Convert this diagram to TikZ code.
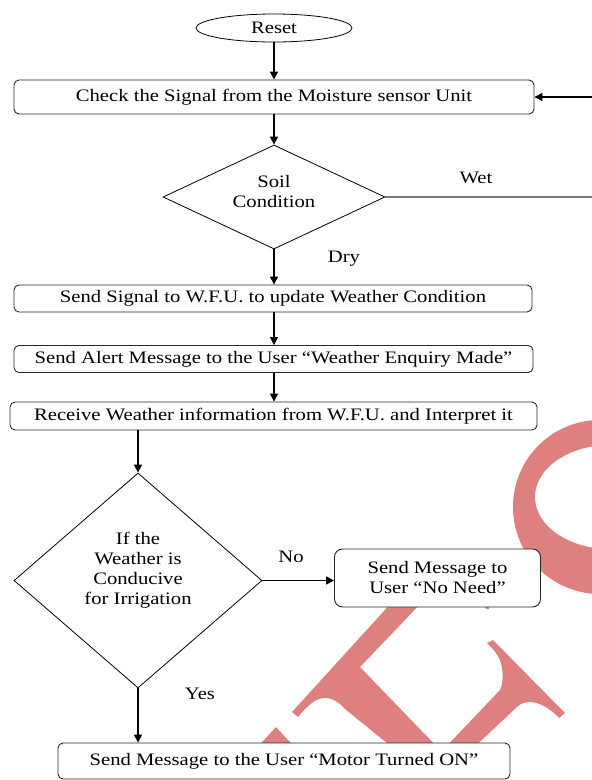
\documentclass[tikz,border=0pt]{standalone}
\usepackage{fontspec}
\setmainfont{Liberation Serif}[FakeStretch=1.18]
\usetikzlibrary{shapes.geometric,arrows.meta}
\definecolor{wmred}{RGB}{222,128,128}
\definecolor{edgegray}{RGB}{40,40,40}
\definecolor{wetgray}{RGB}{120,120,120}
\begin{document}
\begin{tikzpicture}[x=1pt,y=-1pt,
  every node/.style={font=\fontsize{17.5}{20}\selectfont, inner sep=0pt},
  procbox/.style={draw=edgegray, line width=0.9pt, fill=white, rounded corners=5pt, align=center},
  decision/.style={diamond, draw=black, line width=0.8pt, fill=white},
  flow/.style={draw=black, line width=1.4pt, -{Triangle[length=8pt,width=8pt]}},
  tag/.style={anchor=base},
  wmark/.style={fill=wmred}]

\useasboundingbox (0,0) rectangle (592,780);
\fill[white] (0,0) rectangle (592,780);

% background watermark strokes
\fill[wmark, even odd rule] (600,507) circle[radius=87] (610,497) ellipse[x radius=75, y radius=52];
\fill[wmark] (394,600) -- (292,712) -- (298,717)
  .. controls (308,705) and (316,698) .. (325,698)
  .. controls (333,698) and (340,703) .. (345,709)
  -- (398,752) -- (442,752) -- (360,667) -- (424,600) -- cycle;
\fill[wmark] (484,604) -- (490,604) -- (489,609) -- (486,609) -- cycle;
\fill[wmark] (487,643) -- (493,640) -- (565,713) -- (559,718)
  .. controls (552,710) and (540,702) .. (530,702)
  .. controls (524,702) and (520,704) .. (517,707)
  -- (469,752) -- (441,752) -- (500,690)
  .. controls (504,682) and (503,668) .. (500,660)
  .. controls (497,653) and (492,648) .. (487,643) -- cycle;
\fill[wmark] (253,752) -- (276,727) -- (299,752) -- cycle;

% flowchart nodes
\node[ellipse, draw=black, line width=0.8pt, fill=white, minimum width=156pt, minimum height=28pt] (reset) at (274,28) {Reset};
\node[procbox, minimum width=520pt, minimum height=34pt] (check) at (274,97) {Check the Signal from the Moisture sensor Unit};
\node[decision, aspect=2.13, minimum width=222pt, minimum height=104pt] (soil) at (274,197) {};
\node[align=center] (soiltxt) at (274,192) {Soil\\Condition};
\node[procbox, minimum width=518pt, minimum height=27pt] (signal) at (273,298.5) {Send Signal to W.F.U. to update Weather Condition};
\node[procbox, minimum width=519pt, minimum height=27pt] (alert) at (273.5,359) {Send Alert Message to the User “Weather Enquiry Made”};
\node[procbox, minimum width=527pt, minimum height=28pt] (receive) at (273.5,416) {Receive Weather information from W.F.U. and Interpret it};
\node[decision, aspect=1.15, minimum width=248pt, minimum height=215pt] (weather) at (138,580.5) {};
\node[align=center] (weathertxt) at (138,570) {If the\\Weather is\\Conducive\\for Irrigation};
\node[procbox, rounded corners=8pt, minimum width=206pt, minimum height=58pt] (noneed) at (437.5,578) {Send Message to\\User “No Need”};
\node[procbox, minimum width=452pt, minimum height=36pt] (motor) at (284,761) {Send Message to the User “Motor Turned ON”};

% branch labels
\node[tag] (wetlbl) at (476,183) {Wet};
\node[tag] (drylbl) at (344,262) {Dry};
\node[tag] (nolbl) at (291,562) {No};
\node[tag] (yeslbl) at (200,699) {Yes};

% connectors
\coordinate (wetR) at (600,197);
\coordinate (wetTop) at (600,97);
\draw[flow] (reset.south) -- (check.north -| reset.south);
\draw[flow] (check.south -| soil.north) -- (soil.north);
\draw[flow] (soil.south) -- (signal.north -| soil.south);
\draw[flow] (signal.south -| soil.south) -- (alert.north -| soil.south);
\draw[flow] (alert.south -| soil.south) -- (receive.north -| soil.south);
\draw[flow] (receive.south -| weather.north) -- (weather.north);
\draw[flow] (weather.east) -- (weather.east -| noneed.west);
\draw[flow] (weather.south) -- (motor.north -| weather.south);
\draw[draw=wetgray, line width=1.1pt] (soil.east) -- (wetR);
\draw[flow] (wetR) -- (wetTop) -- (check.east);
\end{tikzpicture}
\end{document}
